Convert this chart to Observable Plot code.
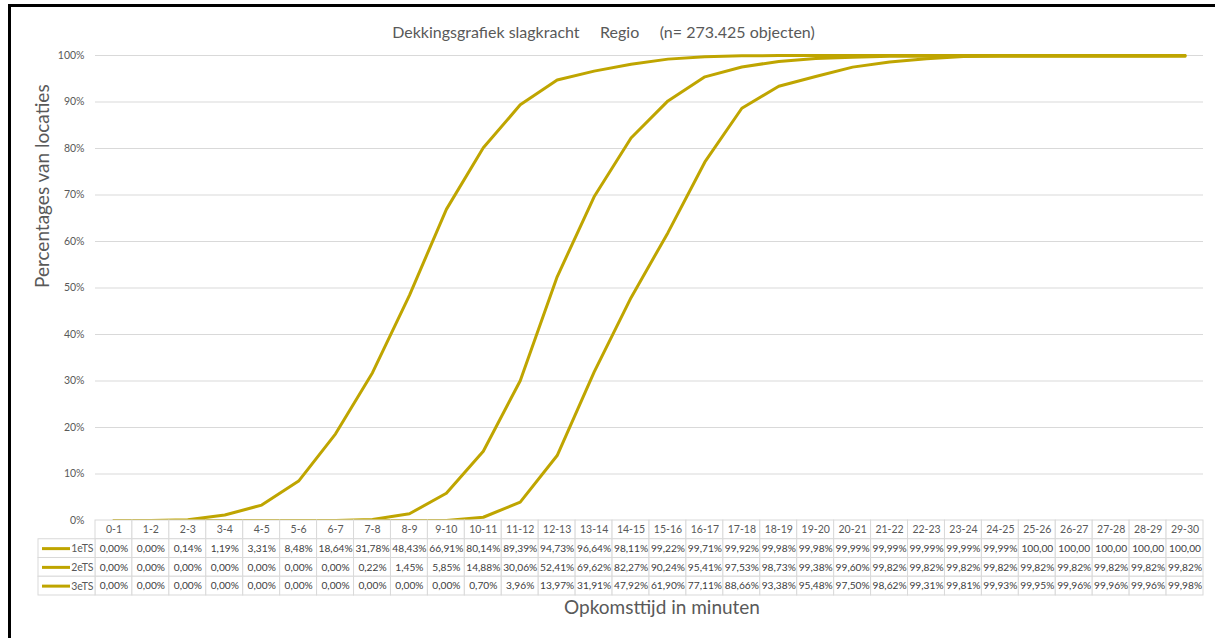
<!DOCTYPE html>
<html>
<head>
<meta charset="utf-8">
<script src="https://cdn.jsdelivr.net/npm/d3@7"></script>
<script src="https://cdn.jsdelivr.net/npm/@observablehq/plot@0.6"></script>
<style>
  body { margin: 0; background: #fff; font-family: Lato, "Open Sans", sans-serif; }
  #page { position: relative; width: 1215px; height: 638px; overflow: hidden; background: #fff; }
  #frame { position: absolute; left: 8px; top: 4px; right: -10px; bottom: -10px;
           border-left: 3px solid #000; border-top: 3px solid #000; pointer-events: none; }
  #title { position: absolute; top: 22px; left: -4px; width: 1215px; text-align: center;
           font-size: 16px; color: #595959; white-space: pre; }
  #chart { position: absolute; top: 40px; left: 0; }
  #table { position: absolute; top: 520px; left: 0; }
  #xtitle { position: absolute; top: 595px; left: 121px; width: 1082px; text-align: center;
            font-size: 19px; color: #595959; }
  svg { overflow: visible; }
</style>
</head>
<body>
<div id="page">
  <div id="title">Dekkingsgrafiek slagkracht     Regio     (n= 273.425 objecten)</div>
  <div id="chart"></div>
  <div id="table"></div>
  <div id="xtitle">Opkomsttijd in minuten</div>
  <div id="frame"></div>
</div>
<script>
// Response-time classes (minutes)
const categories = ["0-1","1-2","2-3","3-4","4-5","5-6","6-7","7-8","8-9","9-10",
  "10-11","11-12","12-13","13-14","14-15","15-16","16-17","17-18","18-19","19-20",
  "20-21","21-22","22-23","23-24","24-25","25-26","26-27","27-28","28-29","29-30"];

const seriesNames = ["1eTS", "2eTS", "3eTS"];

// Cumulative coverage (%) per class
const ts1 = [0.00,0.00,0.14,1.19,3.31,8.48,18.64,31.78,48.43,66.91,
  80.14,89.39,94.73,96.64,98.11,99.22,99.71,99.92,99.98,99.98,
  99.99,99.99,99.99,99.99,99.99,100,100,100,100,100];
const ts2 = [0.00,0.00,0.00,0.00,0.00,0.00,0.00,0.22,1.45,5.85,
  14.88,30.06,52.41,69.62,82.27,90.24,95.41,97.53,98.73,99.38,
  99.60,99.82,99.82,99.82,99.82,99.82,99.82,99.82,99.82,99.82];
const ts3 = [0.00,0.00,0.00,0.00,0.00,0.00,0.00,0.00,0.00,0.00,
  0.70,3.96,13.97,31.91,47.92,61.90,77.11,88.66,93.38,95.48,
  97.50,98.62,99.31,99.81,99.93,99.95,99.96,99.96,99.96,99.98];

const yTicks = [0,10,20,30,40,50,60,70,80,90,100];

const W = 1215, ML = 95, MR = 12;
const lineColor = "#BFA500";
const gridColor = "#d9d9d9";
const textColor = "#595959";

const seriesValues = [ts1, ts2, ts3];
const rows = seriesNames.flatMap((name, s) =>
  categories.map((cat, i) => ({series: name, cat, value: seriesValues[s][i]})));

const fmt = v => v === 100 ? "100,00" : v.toFixed(2).replace(".", ",") + "%";

// Line chart
const chart = Plot.plot({
  width: W,
  height: 485,
  marginTop: 15,
  marginBottom: 5,
  marginLeft: ML,
  marginRight: MR,
  style: {fontFamily: "Lato, 'Open Sans', sans-serif", background: "transparent"},
  x: {type: "band", domain: categories, padding: 0, round: false, axis: null},
  y: {domain: [0, 100], axis: null},
  marks: [
    Plot.gridY(yTicks, {stroke: gridColor, strokeOpacity: 1, strokeWidth: 1}),
    Plot.axisY(yTicks, {tickSize: 0, tickPadding: 11, tickFormat: d => d + "%",
      fontSize: 10.5, fill: textColor, label: null}),
    Plot.text(["Percentages van locaties"], {frameAnchor: "left", rotate: -90, dx: -53,
      fontSize: 19, fill: textColor}),
    Plot.line(rows, {x: "cat", y: "value", z: "series", stroke: lineColor,
      strokeWidth: 3, strokeLinejoin: "round", strokeLinecap: "round"})
  ]
});
document.getElementById("chart").append(chart);

// Data table below the chart
const rowKeys = ["cat", ...seriesNames];
const table = Plot.plot({
  width: W,
  height: 76,
  marginTop: 0,
  marginBottom: 1,
  marginLeft: ML,
  marginRight: MR,
  style: {fontFamily: "Lato, 'Open Sans', sans-serif", background: "transparent"},
  x: {type: "band", domain: categories, padding: 0, round: false, axis: null},
  y: {type: "band", domain: rowKeys, padding: 0, round: false, axis: null},
  marks: [
    Plot.cell(categories, {x: d => d, y: () => "cat", fill: "white", stroke: gridColor}),
    Plot.cell(rows, {x: "cat", y: "series", fill: "white", stroke: gridColor}),
    Plot.cell(seriesNames, {y: d => d, fill: "white", stroke: gridColor,
      insetLeft: -57, insetRight: W - ML - MR}),
    Plot.text(categories, {x: d => d, y: () => "cat", text: d => d, fontSize: 10.5, fill: textColor}),
    Plot.text(rows, {x: "cat", y: "series", text: d => fmt(d.value), fontSize: 10.2, fill: "#404040"}),
    Plot.text(seriesNames, {y: d => d, frameAnchor: "left", textAnchor: "end", dx: -2,
      text: d => d, fontSize: 10.5, fill: textColor}),
    Plot.tickY(seriesNames, {y: d => d, stroke: lineColor, strokeWidth: 3,
      insetLeft: -53, insetRight: W - ML - MR + 25})
  ]
});
document.getElementById("table").append(table);
</script>
</body>
</html>
